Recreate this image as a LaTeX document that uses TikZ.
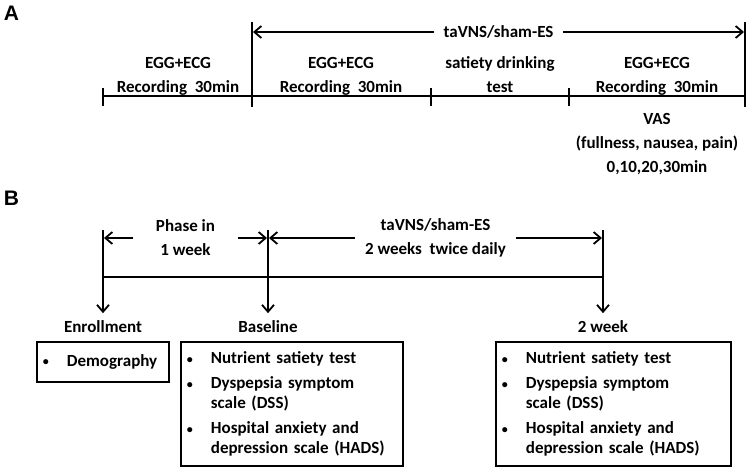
\documentclass[tikz,border=0pt]{standalone}
\usepackage{fontspec}
\setmainfont{Carlito}
\newfontfamily\panelfont{Liberation Sans}
\usetikzlibrary{arrows.meta}

\newcommand{\bul}{\makebox[24pt][l]{\raisebox{0.5pt}{\fontsize{12}{12}\selectfont\textbullet}}}
\newcommand{\contd}{\hspace*{24pt}}

\begin{document}
\begin{tikzpicture}[x=1pt,y=-1pt,line width=1.8pt,
    >={Straight Barb[length=7pt,width=12pt]},
    txt/.style={font=\fontsize{17}{24}\selectfont\bfseries, align=center},
    lbl/.style={txt, inner ysep=6pt},
    gap/.style={fill=white, inner ysep=1pt},
    panel/.style={font=\panelfont\fontsize{21}{21}\selectfont\bfseries, anchor=base west, inner sep=0pt},
    listbox/.style={draw, anchor=north west, inner xsep=6pt, inner ysep=0pt, align=left,
      font=\fontsize{17}{20}\selectfont\bfseries}]
  \useasboundingbox (0,0) rectangle (750,467);

  % panel A
  \node[panel] (pa) at (3,20) {A};
  \coordinate (a0) at (103,96);
  \coordinate (a1) at (252,96);
  \coordinate (a2) at (431,96);
  \coordinate (a3) at (569,96);
  \coordinate (a4) at (745,96);
  \draw (a0) -- (a4);
  \foreach \t in {a0,a2,a3}
    \draw (\t) ++(0,-8) -- ++(0,18);
  \draw (a1 |- 0,22) -- (a1 |- 0,107);
  \draw (a4 |- 0,22) -- (a4 |- 0,107);
  \draw[<->, shorten <=1pt, shorten >=1pt] (a1 |- 0,32) -- (a4 |- 0,32)
    node[midway, txt, gap, inner xsep=10pt] (stimA) {taVNS/sham-ES};

  % text nodes: base anchor is the last line
  \node[txt, anchor=base] (rec1) at (178,92) {EGG+ECG\\Recording~~30min};
  \node[txt, anchor=base] (rec2) at (341,92) {EGG+ECG\\Recording~~30min};
  \node[txt, anchor=base] (drink) at (500,92) {satiety drinking\\test};
  \node[txt, anchor=base] (rec3) at (657,92) {EGG+ECG\\Recording~~30min};
  \node[txt, anchor=base] (vas) at (657,172) {VAS\\(fullness, nausea, pain)\\0,10,20,30min};

  % panel B
  \node[panel] (pb) at (3,205) {B};
  \coordinate (b0) at (103,277);
  \coordinate (b1) at (268,277);
  \coordinate (b2) at (603,277);
  \draw (b0) -- (b2);
  \draw[<->, shorten <=1pt, shorten >=1pt] (b0 |- 0,238) -- (b1 |- 0,238)
    node[midway, txt, gap, inner xsep=23pt] (phase) {Phase in\\1 week};
  \draw[<->, shorten <=1pt, shorten >=1pt] (b1 |- 0,238) -- (b2 |- 0,238)
    node[midway, txt, gap, inner xsep=10pt] (stimB) {taVNS/sham-ES\\2 weeks~~twice daily};

  \node[lbl, anchor=base] (enr) at (103,332) {Enrollment};
  \node[lbl, anchor=base] (base) at (268,332) {Baseline};
  \node[lbl, anchor=base] (wk2) at (603,332) {2 week};
  \draw[->] (b0 |- 0,230) -- (enr);
  \draw[->] (b1 |- 0,230) -- (base);
  \draw[->] (b2 |- 0,230) -- (wk2);

  \node[listbox, text width=120pt, minimum height=40pt] (demo) at (36,341)
    {\bul Demography};
  \node[listbox, text width=210pt, minimum height=124pt] (basebox) at (180,341)
    {\bul Nutrient satiety test\\[5pt]
     \bul Dyspepsia symptom\\ \contd scale (DSS)\\[5pt]
     \bul Hospital anxiety and\\ \contd depression scale (HADS)};
  \node[listbox, text width=223pt, minimum height=124pt] (wkbox) at (495,341)
    {\bul Nutrient satiety test\\[5pt]
     \bul Dyspepsia symptom\\ \contd scale (DSS)\\[5pt]
     \bul Hospital anxiety and\\ \contd depression scale (HADS)};
\end{tikzpicture}
\end{document}
